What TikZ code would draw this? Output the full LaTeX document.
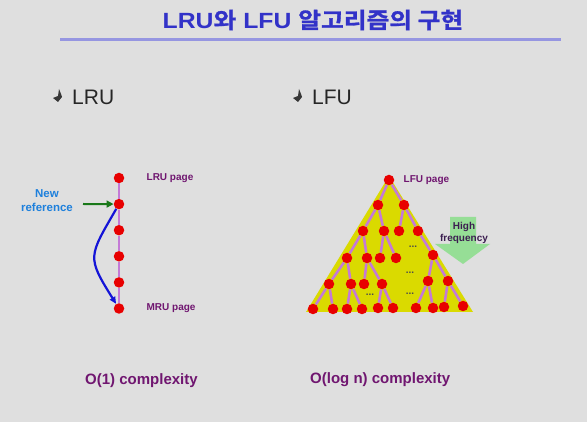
\documentclass[tikz,border=0pt]{standalone}
\usepackage{fontspec}
\setmainfont{Liberation Sans}
\newfontfamily\krfont{Noto Sans CJK KR}[BoldFont={* Bold},BoldFeatures={FakeBold=1.2}]
\usepackage{tikz}
\usetikzlibrary{positioning,arrows.meta}
\usepackage{xcolor}
\definecolor{bggray}{RGB}{223,223,223}
\definecolor{titleblue}{RGB}{50,50,200}
\definecolor{ruleblue}{RGB}{150,150,225}
\definecolor{pagered}{RGB}{232,0,0}
\definecolor{linkviolet}{RGB}{196,122,214}
\definecolor{labelpurple}{RGB}{112,22,112}
\definecolor{newblue}{RGB}{30,128,220}
\definecolor{refgreen}{RGB}{25,120,25}
\definecolor{moveblue}{RGB}{20,20,215}
\definecolor{treeyellow}{RGB}{218,218,0}
\definecolor{freqgreen}{RGB}{150,222,150}
\definecolor{freqtext}{RGB}{60,30,80}
\definecolor{markgray}{RGB}{55,55,55}

\newcommand{\headmark}[1]{\fill[markgray,shift={#1}] (2,-7) -- (4,-2) -- (5,1) -- (1,6) -- (-4,2) -- (1,0) -- cycle;}

\begin{document}
\begin{tikzpicture}[x=1pt,y=-1pt,
    page/.style={circle,fill=pagered,inner sep=0pt,minimum size=10.5pt},
    link/.style={draw=linkviolet,line width=2.6pt},
    chain/.style={draw=linkviolet,line width=2.8pt},
    pagelabel/.style={font=\fontsize{10}{12}\selectfont\bfseries,text=labelpurple,inner sep=0pt},
    complexity/.style={anchor=west,inner sep=0pt,font=\fontsize{15}{18}\selectfont\bfseries,text=labelpurple},
    heading/.style={anchor=west,inner sep=0pt,font=\fontsize{21}{24}\selectfont,text=black!85},
    dotsmark/.style={inner sep=0pt,font=\fontsize{10}{10}\selectfont\bfseries,text=black!70}]

    \fill[bggray] (0,0) rectangle (587,422);
    \useasboundingbox (0,0) rectangle (587,422);

    % title
    \node[inner sep=0pt,xscale=1.125,font=\fontsize{22}{26}\selectfont\bfseries,text=titleblue] (title) at (313,20) {LRU{\krfont 와} LFU {\krfont 알고리즘의 구현}};
    \draw[ruleblue,line width=3pt] (60,40) -- (561,40);

    % headings
    \headmark{(57,96)}
    \node[heading] (lruhead) at (72,97) {LRU};
    \headmark{(297,96)}
    \node[heading] (lfuhead) at (312,97) {LFU};

    % LRU list
    \node[page] (l1) at (119,178) {};
    \node[page] (l2) [below=15.2pt of l1] {};
    \node[page] (l3) [below=15.2pt of l2] {};
    \node[page] (l4) [below=15.2pt of l3] {};
    \node[page] (l5) [below=15.2pt of l4] {};
    \node[page] (l6) [below=15.2pt of l5] {};

    \path[chain]
    (l1) edge (l2)
    (l2) edge (l3)
    (l3) edge (l4)
    (l4) edge (l5)
    (l5) edge (l6);

    \node[pagelabel] (lrulbl) [right=22pt of l1] {LRU page};
    \node[pagelabel] (mrulbl) [right=22pt of l6] {MRU page};

    \node[align=center,inner sep=0pt,font=\fontsize{11.5}{14}\selectfont\bfseries,text=newblue] (newref) at (47,201) {New\\reference};
    \coordinate (refstart) at (83,204);
    \draw[refgreen,line width=2pt,-{Triangle[length=7pt,width=7pt]}] (refstart) -- (l2);
    \draw[moveblue,line width=2.2pt,-{Triangle[length=7pt,width=6pt]}] (l2) to[out=240,in=122,looseness=1.5] (l6);

    % LFU heap
    \fill[treeyellow] (389,176) -- (306,312) -- (473,312) -- cycle;

    \node[page] (r)  at (389,180) {};
    \node[page] (a1) at (378,205) {};
    \node[page] (a2) at (404,205) {};
    \node[page] (b1) at (363,231) {};
    \node[page] (b2) at (384,231) {};
    \node[page] (b3) at (399,231) {};
    \node[page] (b4) at (418,231) {};
    \node[page] (c1) at (347,258) {};
    \node[page] (c2) at (367,258) {};
    \node[page] (c3) at (380,258) {};
    \node[page] (c4) at (396,258) {};
    \node[page] (c5) at (433,255) {};
    \node[page] (d1) at (329,284) {};
    \node[page] (d2) at (351,284) {};
    \node[page] (d3) at (364,284) {};
    \node[page] (d4) at (382,284) {};
    \node[page] (d5) at (428,281) {};
    \node[page] (d6) at (448,281) {};
    \node[page] (e1) at (313,309) {};
    \node[page] (e2) at (333,309) {};
    \node[page] (e3) at (347,309) {};
    \node[page] (e4) at (362,309) {};
    \node[page] (e5) at (378,308) {};
    \node[page] (e6) at (393,308) {};
    \node[page] (e7) at (416,308) {};
    \node[page] (e8) at (433,308) {};
    \node[page] (e9) at (444,307) {};
    \node[page] (e10) at (463,306) {};

    \path[link]
    (r)  edge (a1) edge (a2)
    (a1) edge (b1) edge (b2)
    (a2) edge (b3) edge (b4)
    (b1) edge (c1) edge (c2)
    (b2) edge (c3) edge (c4)
    (b4) edge (c5)
    (c1) edge (d1) edge (d2)
    (c2) edge (d3) edge (d4)
    (c5) edge (d5) edge (d6)
    (d1) edge (e1) edge (e2)
    (d2) edge (e3) edge (e4)
    (d4) edge (e5) edge (e6)
    (d5) edge (e7) edge (e8)
    (d6) edge (e9) edge (e10);

    \node[dotsmark] (dots1) at (413,247) {...};
    \node[dotsmark] (dots2) at (410,273) {...};
    \node[dotsmark] (dots3) at (370,295) {...};
    \node[dotsmark] (dots4) at (410,294) {...};

    \node[pagelabel] (lfulbl) [right=9pt of r] {LFU page};

    % high frequency arrow
    \fill[freqgreen] (450,217) -- (476,217) -- (476,244) -- (490,244) -- (463,264) -- (435,244) -- (450,244) -- cycle;
    \node[align=center,inner sep=0pt,font=\fontsize{10}{12.5}\selectfont\bfseries,text=freqtext] (freq) at (464,233) {High\\frequency};

    % complexity
    \node[complexity] (lrucost) at (85,381) {O(1) complexity};
    \node[complexity] (lfucost) at (310,380) {O(log n) complexity};
\end{tikzpicture}
\end{document}
